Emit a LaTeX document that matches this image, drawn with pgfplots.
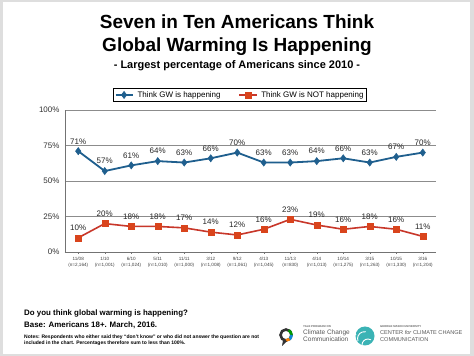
\documentclass[border=0pt]{standalone}
\usepackage{fontspec}
\setmainfont{Liberation Sans}
\usepackage{pgfplots}
\pgfplotsset{compat=1.18}
\definecolor{gwblue}{HTML}{1F5F8E}
\definecolor{gwred}{HTML}{C8372A}
\definecolor{gwredm}{HTML}{D9441C}
\definecolor{teal1}{HTML}{3BB3B5}
\begin{document}
\begin{tikzpicture}[x=1pt,y=1pt]
\fill[black!13] (0,0) rectangle (474,356);
\fill[white] (3,2) rectangle (470,354);
% titles
\node[font=\bfseries\fontsize{19}{23}\selectfont, anchor=base] at (237,327) {Seven in Ten Americans Think};
\node[font=\bfseries\fontsize{19}{23}\selectfont, anchor=base] at (237,304) {Global Warming Is Happening};
\node[font=\bfseries\fontsize{11}{13}\selectfont, anchor=base] at (237,287) {- Largest percentage of Americans since 2010 -};
\begin{axis}[
  at={(65pt,104pt)}, anchor=south west,
  scale only axis, width=371pt, height=142pt,
  xmin=-0.5, xmax=13.5, ymin=0, ymax=100,
  /pgf/number format/assume math mode=true,
  axis x line*=bottom, axis y line*=left,
  axis line style={-, draw=black!55, line width=0.6pt},
  ytick={0,25,50,75,100},
  yticklabels={0\%,25\%,50\%,75\%,100\%},
  yticklabel style={font=\fontsize{8}{9}\selectfont, text=black!80},
  ytick style={draw=none},
  ymajorgrids,
  grid style={black!45, line width=0.7pt},
  xtick={0,...,13},
  xticklabels={11/08\\(n=2{,}164),1/10\\(n=1{,}001),6/10\\(n=1{,}024),5/11\\(n=1{,}010),11/11\\(n=1{,}000),3/12\\(n=1{,}008),9/12\\(n=1{,}061),4/13\\(n=1{,}045),11/13\\(n=830),4/14\\(n=1{,}013),10/14\\(n=1{,}275),3/15\\(n=1{,}263),10/15\\(n=1{,}330),3/16\\(n=1{,}204)},
  xticklabel style={font=\fontsize{4.6}{6}\selectfont, align=center, text=black!75},
  tick align=outside, major tick length=2pt,
  xtick style={draw=black!55},
  nodes near coords={\pgfmathprintnumber{\pgfplotspointmeta}\%},
  every node near coord/.append style={font=\fontsize{8}{9}\selectfont, text=black!85, yshift=3.5pt},
  legend columns=2,
  legend style={at={(0.472,1.106)}, anchor=center, draw=black, line width=0.6pt,
    font=\fontsize{8}{9}\selectfont, inner sep=1pt,
    /tikz/every odd column/.append style={column sep=2pt},
    /tikz/every even column/.append style={column sep=16pt}},
  clip=false,
]
\addplot[gwblue, line width=1.8pt, mark=diamond*, mark size=3.6pt, mark options={fill=gwblue, line width=0.5pt}]
 coordinates {(0,71)(1,57)(2,61)(3,64)(4,63)(5,66)(6,70)(7,63)(8,63)(9,64)(10,66)(11,63)(12,67)(13,70)};
\addlegendentry{Think GW is happening}
\addplot[gwred, line width=1.6pt, mark=square*, mark size=3pt, mark options={fill=gwredm, draw=gwredm, line width=0.5pt}]
 coordinates {(0,10)(1,20)(2,18)(3,18)(4,17)(5,14)(6,12)(7,16)(8,23)(9,19)(10,16)(11,18)(12,16)(13,11)};
\addlegendentry{Think GW is NOT happening}
\end{axis}
% footer texts
\node[anchor=base west, font=\bfseries\fontsize{7.9}{10}\selectfont, inner sep=0] at (24,40) {Do you think global warming is happening?};
\node[anchor=base west, font=\bfseries\fontsize{7.9}{10}\selectfont, inner sep=0] at (24,28) {Base: Americans 18+. March, 2016.};
\node[anchor=base west, font=\bfseries\fontsize{5}{6}\selectfont, inner sep=0] at (24,17) {Notes: Respondents who either said they ``don't know'' or who did not answer the question are not};
\node[anchor=base west, font=\bfseries\fontsize{5}{6}\selectfont, inner sep=0] at (24,11) {included in the chart. Percentages therefore sum to less than 100\%.};
% Yale logo
\draw[black!80, line width=2.6pt] (286,21) circle (5.5);
\draw[green!60!black, line width=2.6pt] (286,21) ++(60:5.5) arc (60:0:5.5);
\draw[cyan!70!blue, line width=2.6pt] (286,21) ++(0:5.5) arc (0:-50:5.5);
\draw[orange, line width=2.6pt] (286,21) ++(-50:5.5) arc (-50:-90:5.5);
\fill[black!80] (283,16) -- (282,10) -- (287,15) -- cycle;
\node[anchor=base west, font=\bfseries\fontsize{2.8}{3}\selectfont, text=black!60, inner sep=0] at (303,28) {YALE PROGRAM ON};
\node[anchor=base west, font=\fontsize{6.5}{8}\selectfont, text=black!65, inner sep=0] at (303,21) {Climate Change};
\node[anchor=base west, font=\fontsize{6.5}{8}\selectfont, text=black!65, inner sep=0] at (303,14) {Communication};
% GMU logo
\fill[teal1] (365,20) circle (9.5);
\draw[white, line width=0.9pt] (362,11) arc (180:60:6);
\draw[white, line width=0.9pt] (358,15) arc (200:80:7);
\draw[white, line width=0.9pt] (356,21) arc (220:100:6);
\node[anchor=base west, font=\bfseries\fontsize{2.8}{3}\selectfont, text=black!60, inner sep=0] at (380,28) {GEORGE MASON UNIVERSITY};
\node[anchor=base west, font=\fontsize{5.6}{7}\selectfont, text=black!65, inner sep=0] at (380,21) {CENTER \textit{for} CLIMATE CHANGE};
\node[anchor=base west, font=\fontsize{5.6}{7}\selectfont, text=black!65, inner sep=0] at (380,14) {COMMUNICATION};
\end{tikzpicture}
\end{document}
